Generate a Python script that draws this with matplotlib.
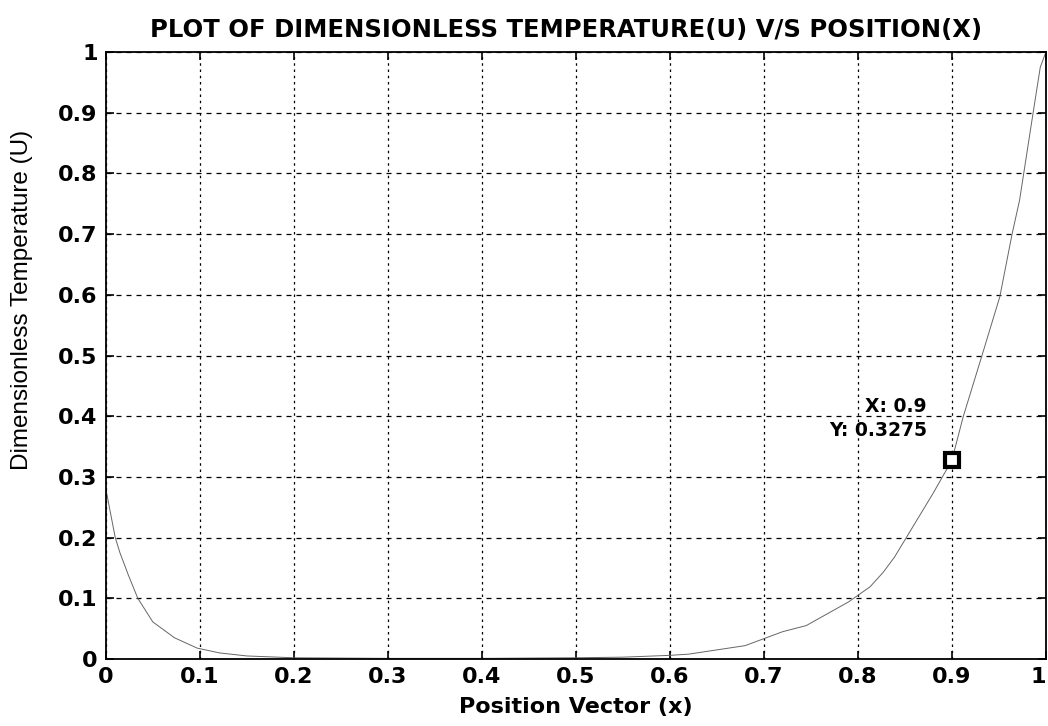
import matplotlib.pyplot as plt

# --- Values ---
x_pos = [0.0, 0.01, 0.015, 0.024, 0.034, 0.05, 0.073, 0.097, 0.121, 0.15,
         0.2, 0.3, 0.4, 0.5, 0.55, 0.6, 0.62, 0.65, 0.68, 0.72, 0.745,
         0.79, 0.813, 0.827, 0.839, 0.88, 0.9, 0.912, 0.932, 0.951, 0.964,
         0.972, 0.986, 0.994, 1.0]
u_temp = [0.28, 0.20, 0.175, 0.138, 0.10, 0.061, 0.035, 0.018, 0.01, 0.005,
          0.002, 0.001, 0.001, 0.002, 0.003, 0.006, 0.008, 0.015, 0.022, 0.045, 0.055,
          0.094, 0.119, 0.143, 0.168, 0.273, 0.3275, 0.399, 0.50, 0.597, 0.70,
          0.756, 0.896, 0.975, 1.0]

tip_x = 0.9
tip_y = 0.3275
ticks = [0, 0.1, 0.2, 0.3, 0.4, 0.5, 0.6, 0.7, 0.8, 0.9, 1]
tick_labels = ['0', '0.1', '0.2', '0.3', '0.4', '0.5', '0.6', '0.7', '0.8', '0.9', '1']

plt.rcParams['font.family'] = ['DejaVu Sans']

fig = plt.figure(figsize=(10.48, 7.26), dpi=100)
ax = fig.add_axes([0.101, 0.0923, 0.897, 0.836])

# curve
ax.plot(x_pos, u_temp, color='#666666', lw=0.7)

# data tip
ax.plot([tip_x], [tip_y], marker='s', ms=10, mfc='white', mec='black', mew=3, zorder=5)
ax.annotate(f'X: {tip_x:g}\nY: {tip_y:g}', xy=(tip_x, tip_y), xytext=(-18, 30),
            textcoords='offset points', ha='right', va='center',
            fontsize=13.5, fontweight='bold', linespacing=1.3)

ax.set_xlim(0, 1)
ax.set_ylim(0, 1)
ax.set_xticks(ticks)
ax.set_xticklabels(tick_labels)
ax.set_yticks(ticks)
ax.set_yticklabels(tick_labels)
ax.tick_params(direction='in', top=True, right=True, length=6, width=1.2,
               labelsize=16, pad=6)
for lab in ax.get_xticklabels() + ax.get_yticklabels():
    lab.set_fontweight('bold')
ax.get_xticklabels()[-1].set_horizontalalignment('right')
for s in ax.spines.values():
    s.set_linewidth(1.3)

ax.xaxis.grid(True, color='black', linestyle=(0, (2, 3)), lw=0.9)
ax.yaxis.grid(True, color='black', linestyle=(0, (4, 4)), lw=0.9)

ax.set_title('PLOT OF DIMENSIONLESS TEMPERATURE(U) V/S POSITION(X)',
             fontsize=17.5, fontweight='bold', pad=11, x=0.49)
ax.set_xlabel('Position Vector (x)', fontsize=16, fontweight='bold', labelpad=7)
fig.text(22 / 1048, 1 - 300 / 726, 'Dimensionless Temperature (U)', rotation=90,
         ha='center', va='center', fontsize=17.5, family=['Liberation Sans'])

fig.savefig('out.png', dpi=100)
